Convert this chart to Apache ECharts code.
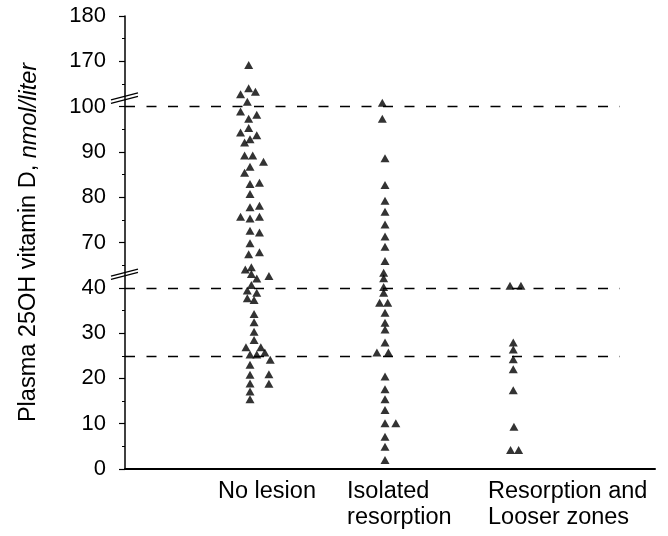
<!DOCTYPE html>
<html><head><meta charset="utf-8">
<script src="https://cdn.jsdelivr.net/npm/echarts@6/dist/echarts.min.js"></script>
<style>html,body{margin:0;padding:0;background:#fff}#c{width:668px;height:536px}</style>
</head><body><div id="c"></div>
<script>
// ---- data (nmol/liter) ----
const categories = ['No lesion', 'Isolated\nresorption', 'Resorption and\nLooser zones'];
const categoryPos = [1, 2, 3];
const labelPos = [0.763, 1.719, 2.763];

const noLesion = [164.3, 128.3, 123.0, 119.0, 107.6, 98.9, 98.2, 97.3, 95.3, 94.3, 93.7, 92.8, 92.1, 89.2, 89.2, 87.8, 86.7, 85.4, 82.9, 83.2, 80.7, 77.8, 78.1, 75.7, 75.3, 75.7, 72.6, 72.2, 69.5, 62.2, 63.5, 52.2, 53.6, 49.1, 46.2, 47.8, 41.9, 39.4, 38.9, 37.7, 37.3, 34.2, 32.4, 30.3, 28.5, 26.9, 26.9, 25.3, 25.3, 25.7, 24.1, 23.0, 20.9, 20.8, 18.9, 18.8, 17.1, 15.4];
const noLesionJitter = [-0.01, -0.01, 0.04, -0.07, -0.02, -0.07, 0.05, -0.01, -0.01, -0.07, 0.05, 0, -0.04, -0.04, 0.02, 0.10, 0, -0.04, 0, 0.07, 0, 0, 0.07, -0.07, 0, 0.07, 0, 0.07, 0, -0.01, 0.07, -0.035, 0.01, 0.01, 0.05, 0.14, 0.01, -0.02, 0.05, -0.02, 0.03, 0.03, 0.03, 0.03, 0.03, -0.03, 0.08, 0, 0.05, 0.11, 0.15, 0, 0.14, 0, 0, 0.14, 0, 0];

const isolated = [106.0, 97.3, 88.6, 82.7, 79.2, 76.8, 74.0, 71.3, 67.2, 57.8, 50.0, 46.3, 40.5, 38.9, 36.7, 36.7, 34.5, 32.3, 30.8, 27.9, 25.7, 25.7, 20.4, 17.6, 15.4, 13.0, 10.1, 10.1, 7.1, 4.9, 2.0];
const isolatedJitter = [-0.02, -0.02, 0, 0, 0, 0, 0, 0, 0, 0, -0.01, -0.01, -0.01, -0.01, -0.04, 0.02, 0, 0, 0, 0, -0.06, 0.025, 0, 0, 0, 0, 0, 0.08, 0, 0, 0];

const looser = [41.4, 41.4, 27.9, 26.4, 24.2, 22.0, 17.4, 9.3, 4.2, 4.2];
const looserJitter = [-0.074, 0.007, -0.05, -0.05, -0.05, -0.05, -0.05, -0.045, -0.07, -0.01];

const refLines = [25, 40, 100];
const yTicks = [0, 10, 20, 30, 40, 70, 80, 90, 100, 170, 180];
const axisBreaks = [49, 113];

// broken axis: real value segments -> display segments
const segReal = [0, 40, 70, 100, 170, 180];
const segDisp = [0, 40, 50, 80, 90, 100];
function toDisp(v) {
  for (let i = 1; i < segReal.length; i++) {
    if (v <= segReal[i]) {
      const t = (v - segReal[i - 1]) / (segReal[i] - segReal[i - 1]);
      return segDisp[i - 1] + t * (segDisp[i] - segDisp[i - 1]);
    }
  }
  return segDisp[segDisp.length - 1];
}

const xMin = 0.074, xMax = 4.0, dashEnd = 3.74;
const FONT = '"Liberation Sans", Arial, Helvetica, sans-serif';

function pts(vals, jit, c) {
  return vals.map((v, i) => [categoryPos[c] + jit[i], toDisp(v)]);
}

const chart = echarts.init(document.getElementById('c'), null, {renderer: 'canvas'});
const sym = {type: 'scatter', symbol: 'triangle', symbolSize: [9, 8], itemStyle: {color: '#000'}, silent: true};

chart.setOption({
  animation: false,
  backgroundColor: '#fff',
  grid: {left: 125, right: 13, top: 16, bottom: 67},
  xAxis: {
    type: 'value', min: xMin, max: xMax,
    axisLine: {show: true, onZero: false, lineStyle: {color: '#000', width: 2}},
    axisTick: {show: false},
    splitLine: {show: false},
    axisLabel: {
      customValues: labelPos,
      formatter: function (val) {
        const i = labelPos.findIndex(p => Math.abs(p - val) < 1e-6);
        return i >= 0 ? categories[i] : '';
      },
      align: 'left', color: '#000', fontSize: 23.5, lineHeight: 26, margin: 10, fontFamily: FONT
    }
  },
  yAxis: {
    type: 'value', min: 0, max: 100, interval: 10,
    name: '{a|Plasma 25OH vitamin D, }{b|nmol/liter}',
    nameLocation: 'middle', nameRotate: 90, nameGap: 84,
    nameTextStyle: {
      color: '#000', fontSize: 23.5, fontFamily: FONT,
      rich: {
        a: {color: '#000', fontSize: 23.5, fontFamily: FONT},
        b: {color: '#000', fontSize: 23.5, fontFamily: FONT, fontStyle: 'italic'}
      }
    },
    axisLine: {show: true, lineStyle: {color: '#000', width: 1.5}},
    axisTick: {show: true, length: 6, lineStyle: {color: '#000', width: 1.2}},
    minorTick: {show: true, splitNumber: 2, length: 3, lineStyle: {color: '#000', width: 1}},
    splitLine: {show: false},
    axisLabel: {
      color: '#000', fontSize: 22, fontFamily: FONT, margin: 19,
      formatter: function (d) {
        const t = yTicks.find(v => Math.abs(toDisp(v) - d) < 1e-6);
        return t === undefined ? '' : String(t);
      }
    }
  },
  series: [
    Object.assign({}, sym, {
      name: categories[0], data: pts(noLesion, noLesionJitter, 0),
      markLine: {
        silent: true, symbol: 'none', label: {show: false},
        lineStyle: {color: '#000', width: 1.3, type: [10, 11.5]},
        data: refLines.map(v => [{coord: [xMin, toDisp(v)]}, {coord: [dashEnd, toDisp(v)]}])
      }
    }),
    Object.assign({}, sym, {name: categories[1], data: pts(isolated, isolatedJitter, 1)}),
    Object.assign({}, sym, {name: categories[2], data: pts(looser, looserJitter, 2)})
  ]
});

// axis break marks
const g = [];
axisBreaks.forEach(b => {
  const p = chart.convertToPixel({xAxisIndex: 0, yAxisIndex: 0}, [xMin, toDisp(b)]);
  [-1.7, 1.7].forEach(off => {
    g.push({type: 'line', z: 100,
      shape: {x1: p[0] - 14, y1: p[1] + 3.5 + off, x2: p[0] + 13, y2: p[1] - 3.5 + off},
      style: {stroke: '#000', lineWidth: 1.3}});
  });
});
chart.setOption({graphic: g});
</script>
</body></html>
